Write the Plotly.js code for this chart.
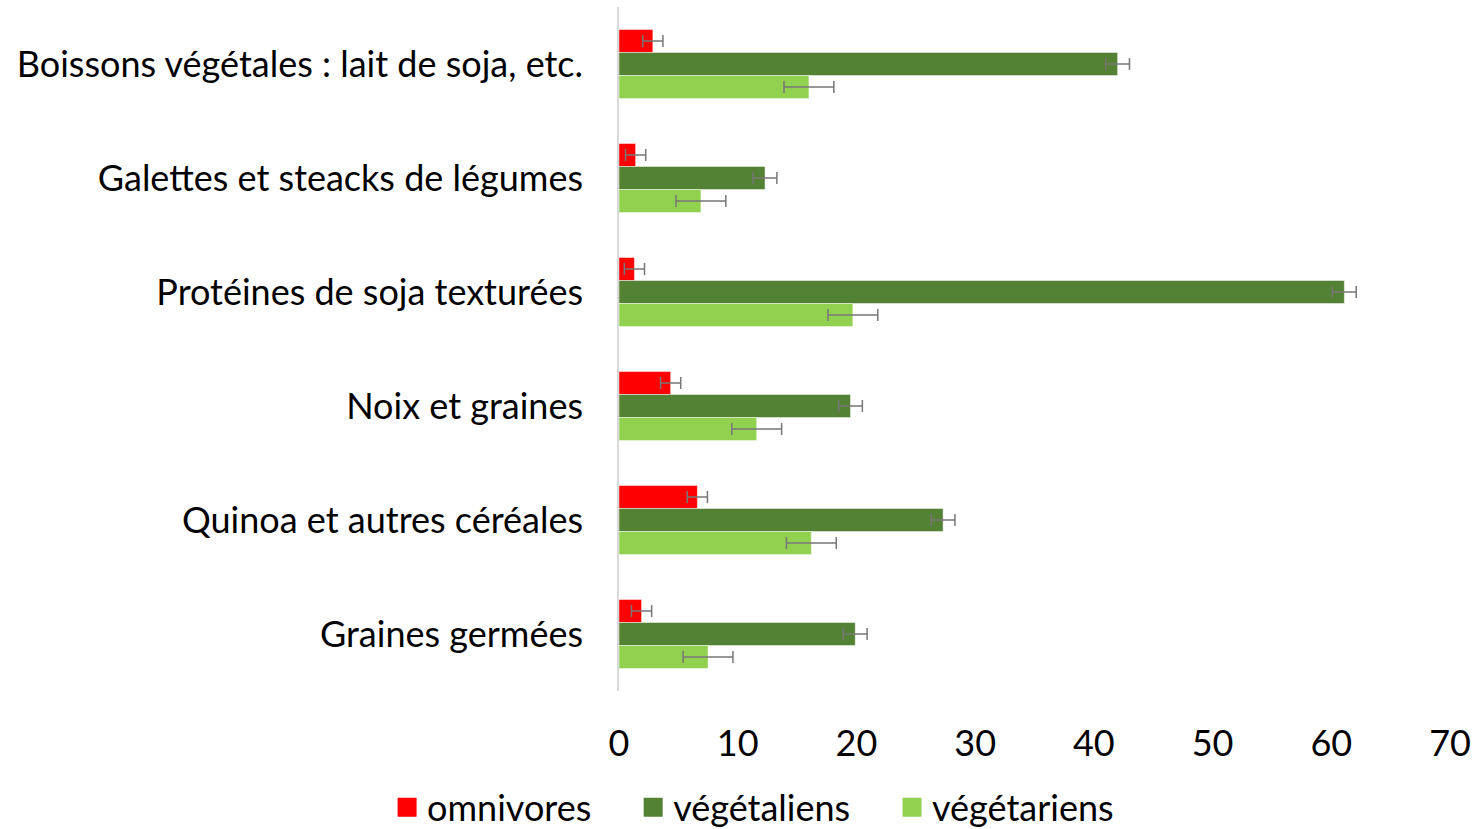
<!DOCTYPE html>
<html>
<head>
<meta charset="utf-8">
<script src="https://cdn.plot.ly/plotly-3.0.1.min.js"></script>
<style>html,body{margin:0;padding:0;background:#fff;}#chart{width:1481px;height:829px;}</style>
</head>
<body>
<div id="chart"></div>
<script>
const categories = [
  "Boissons végétales : lait de soja, etc.",
  "Galettes et steacks de légumes",
  "Protéines de soja texturées",
  "Noix et graines",
  "Quinoa et autres céréales",
  "Graines germées"
];
const seriesNames = ["omnivores", "végétaliens", "végétariens"];
const seriesColors = ["#FF0000", "#548235", "#92D050"];
const omnivores = [2.85, 1.4, 1.3, 4.35, 6.6, 1.9];
const omnivoresErr = [0.85, 0.85, 0.85, 0.85, 0.85, 0.85];
const vegetaliens = [42.0, 12.3, 61.1, 19.5, 27.3, 19.9];
const vegetaliensErr = [1.0, 1.0, 1.0, 1.0, 1.0, 1.0];
const vegetariens = [16.0, 6.9, 19.7, 11.6, 16.2, 7.5];
const vegetariensErr = [2.1, 2.1, 2.1, 2.1, 2.1, 2.1];
const xTicks = [0, 10, 20, 30, 40, 50, 60, 70];

const FONT = "Lato, 'Open Sans', sans-serif";
const FS = 36;
function series(i, vals, errs) {
  return {
    type: 'bar', orientation: 'h', name: seriesNames[i], showlegend: false,
    y: categories, x: vals,
    marker: {color: seriesColors[i], line: {color: 'rgba(255,255,255,0.45)', width: 1}},
    error_x: {type: 'data', array: errs, visible: true, color: '#777777', thickness: 1.5, width: 6}
  };
}
function legendEntry(i) {
  return {
    type: 'scatter', mode: 'markers', name: seriesNames[i] + '\u00A0\u00A0\u00A0\u00A0',
    x: [null], y: [null], hoverinfo: 'skip',
    marker: {symbol: 'square', size: 16, color: seriesColors[i], line: {color: seriesColors[i], width: 3}}
  };
}
const data = [
  series(0, omnivores, omnivoresErr),
  series(1, vegetaliens, vegetaliensErr),
  series(2, vegetariens, vegetariensErr),
  legendEntry(0), legendEntry(1), legendEntry(2)
];
const layout = {
  width: 1481, height: 829,
  margin: {l: 619, r: 31, t: 7, b: 138},
  paper_bgcolor: '#ffffff', plot_bgcolor: '#ffffff',
  font: {family: FONT, size: FS, color: '#000000'},
  barmode: 'group', bargap: 0.395, bargroupgap: 0,
  xaxis: {range: [0, 70], tickvals: xTicks, ticktext: xTicks.map(String),
          showgrid: false, zeroline: false, showline: false, ticks: '',
          ticklabelstandoff: 28, tickfont: {family: FONT, size: FS, color: '#000'}},
  yaxis: {autorange: 'reversed', type: 'category', showgrid: false, zeroline: false,
          showline: true, linecolor: '#d9d9d9', linewidth: 1.5, ticks: '',
          ticklabelstandoff: 27, tickfont: {family: FONT, size: FS, color: '#000'}},
  legend: {orientation: 'h', xref: 'container', x: 0.521, xanchor: 'center',
           yref: 'container', y: 0.026, yanchor: 'middle',
           font: {family: FONT, size: FS, color: '#000'}, traceorder: 'normal'},
  showlegend: true
};
Plotly.newPlot('chart', data, layout, {displayModeBar: false});
</script>
</body>
</html>
